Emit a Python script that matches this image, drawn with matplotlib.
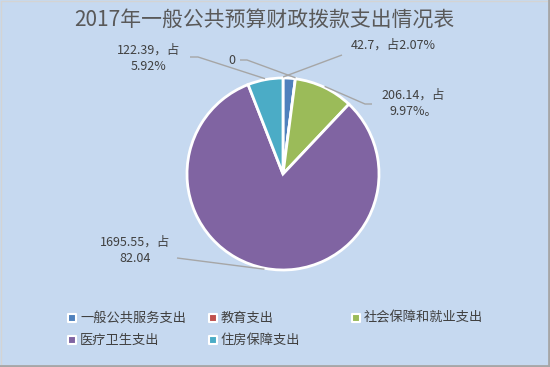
import numpy as np
import matplotlib.pyplot as plt
from matplotlib.patches import Rectangle

plt.rcParams['font.family'] = ['Noto Sans CJK SC', 'DejaVu Sans']

categories = ['一般公共服务支出', '教育支出', '社会保障和就业支出', '医疗卫生支出', '住房保障支出']
values = [42.7, 0, 206.14, 1695.55, 122.39]
labels = ['42.7，占2.07%', '0', '206.14，占\n9.97%。', '1695.55，占\n82.04', '122.39，占\n5.92%']
colors = ['#4F81BD', '#C0504D', '#9BBB59', '#8064A2', '#4BACC6']

W, H = 550, 367
BG = '#C6D9F0'


def fy(y):
    return H - y


fig = plt.figure(figsize=(5.5, 3.67), dpi=100)
fig.patch.set_facecolor(BG)
ax = fig.add_axes([0, 0, 1, 1])
ax.set_xlim(0, W)
ax.set_ylim(0, H)
ax.set_aspect('equal')
ax.set_axis_off()

cx, cy, r = 283, 174, 96
wedges, _ = ax.pie(values, colors=colors, startangle=90, counterclock=False,
                   center=(cx, fy(cy)), radius=r,
                   wedgeprops=dict(edgecolor='white', linewidth=2))
ax.set_xlim(0, W)
ax.set_ylim(0, H)

# label text centres and leader elbow points (pixel coords, y from top)
text_pos = [(393, 45), (232, 60), (413, 103.5), (135, 250.5), (149, 58.5)]
elbow = [(342, 55), (240, 60), (372, 104), (177, 258), (190, 57)]
elbow2 = [(342, 55), (247, 60), (365, 104), (177, 258), (198, 57)]
# which part of the wedge the leader points at (0 = end, 0.5 = middle, 1 = start)
aim = [1.0, 0.5, 0.5, 0.5, 0.5]

for w, lab, tp, e1, e2, a in zip(wedges, labels, text_pos, elbow, elbow2, aim):
    ang = np.deg2rad(w.theta1 + (w.theta2 - w.theta1) * a)
    px = cx + (r + 1) * np.cos(ang)
    pyv = fy(cy) + (r + 1) * np.sin(ang)
    ax.plot([e1[0], e2[0], px], [fy(e1[1]), fy(e2[1]), pyv],
            color='#A6A6A6', lw=1, zorder=1, solid_capstyle='butt')
    ax.text(tp[0], fy(tp[1]), lab, ha='center', va='center', fontsize=9,
            color='#404040', linespacing=1.3)

ax.text(264, fy(20), '2017年一般公共预算财政拨款支出情况表', ha='center', va='center',
        fontsize=15, color='#595959')

# legend
leg_pos = [(72, 318), (213, 318), (356, 318), (72, 340), (213, 340)]
for cat, col, (lx, ly) in zip(categories, colors, leg_pos):
    ax.scatter([lx], [fy(ly)], marker='s', s=30, color=col, edgecolor='white',
               linewidth=1.5, zorder=3)
    ax.text(lx + 8, fy(ly), cat, ha='left', va='center', fontsize=9.5, color='#404040')

# frame: light top/left, darker right/bottom
ax.plot([0.5, 0.5, W], [0, H - 0.5, H - 0.5], color='#D4D4D4', lw=1, zorder=5)
ax.plot([0, W - 1, W - 1], [1, 1, H], color='#A6A6A6', lw=2, zorder=5)

fig.savefig('out.png', dpi=100, facecolor=BG)
